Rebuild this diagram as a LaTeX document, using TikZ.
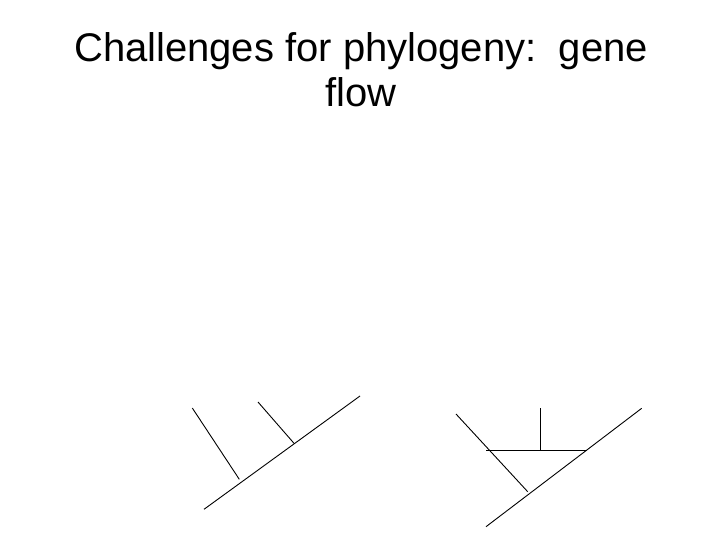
\documentclass[tikz,border=0pt]{standalone}
\usepackage{fontspec}
\setmainfont{Liberation Sans}
\begin{document}
\begin{tikzpicture}[x=1pt,y=-1pt,
  branch/.style={line width=0.9pt,black},
  titletext/.style={font=\fontsize{40}{45}\selectfont,anchor=base,inner sep=0pt}]
\useasboundingbox (0,0) rectangle (720,540);
\node[titletext] (t1) at (361,62) {Challenges for phylogeny:\ \ gene};
\node[titletext] (t2) at (361,107) {flow};
% left tree
\coordinate (a0) at (204,509.3);
\coordinate (a1) at (360,396);
\coordinate (aL) at (192.3,408);
\coordinate (aLb) at (239.3,479.3);
\coordinate (aM) at (258,402);
\coordinate (aMb) at (294,443.3);
\draw[branch] (a0) -- (a1);
\draw[branch] (aL) -- (aLb);
\draw[branch] (aM) -- (aMb);
% right tree
\coordinate (b0) at (486,526.7);
\coordinate (b1) at (641.7,408.3);
\coordinate (bL) at (456,414);
\coordinate (bLb) at (527.7,491.7);
\coordinate (bV) at (540,408);
\coordinate (bVb) at (540,450.3);
\coordinate (bH1) at (486,450.3);
\coordinate (bH2) at (587.3,450.3);
\draw[branch] (b0) -- (b1);
\draw[branch] (bL) -- (bLb);
\draw[branch] (bV) -- (bVb);
\draw[branch] (bH1) -- (bH2);
\end{tikzpicture}
\end{document}
